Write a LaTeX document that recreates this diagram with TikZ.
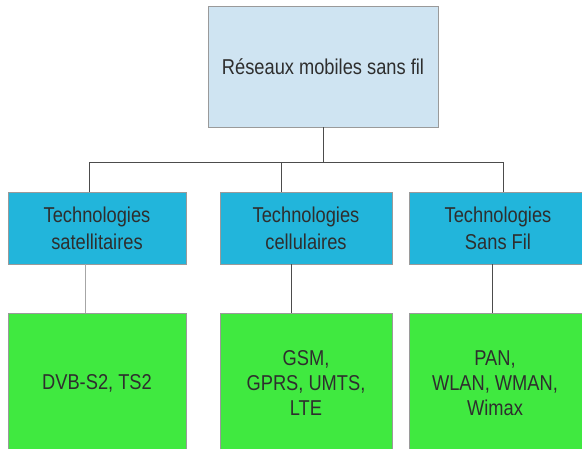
\documentclass[tikz,border=0pt]{standalone}
\usepackage{fontspec}
\setmainfont{Liberation Sans}[FakeStretch=0.85]
\definecolor{rootfill}{HTML}{CFE4F2}
\definecolor{techfill}{HTML}{22B5DB}
\definecolor{listfill}{HTML}{40E940}
\definecolor{boxline}{HTML}{9A9A9A}
\definecolor{inkgray}{HTML}{2E2E2E}
\tikzset{
  box/.style={draw=boxline,line width=0.9pt,align=center,text=inkgray,
    font=\fontsize{21.5}{27}\selectfont,inner sep=0pt},
  rootbox/.style={box,fill=rootfill,minimum width=230,minimum height=121},
  techbox/.style={box,fill=techfill,minimum height=72},
  listbox/.style={box,fill=listfill,minimum height=170},
  listtext/.style={align=center,text=inkgray,inner sep=0pt,
    font=\fontsize{21.5}{25}\selectfont},
  link/.style={draw=black!70,line width=0.9pt},
  paleline/.style={draw=black!35,line width=0.9pt}
}
\begin{document}
\begin{tikzpicture}[x=1pt,y=-1pt]
\useasboundingbox (0,0) rectangle (582,449);
\clip (0,0) rectangle (582,449);
\node[rootbox] (root) at (323,66.5) {R\'eseaux mobiles sans fil};
\node[techbox,minimum width=178] (sat) at (97,228) {Technologies\\satellitaires};
\node[techbox,minimum width=172] (cell) at (306,228) {Technologies\\cellulaires};
\node[techbox,minimum width=178] (wifi) at (498,228) {Technologies\\Sans Fil};
\node[listbox,minimum width=178] (dvb) at (97,398) {};
\node[listbox,minimum width=172] (gsm) at (306,398) {};
\node[listbox,minimum width=178] (pan) at (498,398) {};
\node[listtext] (dvbtext) at (97,383) {DVB-S2, TS2};
\node[listtext] (gsmtext) at (306,383) {GSM,\\GPRS, UMTS,\\LTE};
\node[listtext] (pantext) at (495,383) {PAN,\\WLAN, WMAN,\\Wimax};
% bus between the levels
\coordinate (bus) at (0,162);
\draw[link] (root.south) -- (root.south |- bus);
\draw[link] ([xshift=-8]sat.north) |- ([xshift=5]wifi.north |- bus) -- ([xshift=5]wifi.north);
\draw[link] ([xshift=-25]cell.north) -- ([xshift=-25]cell.north |- bus);
% down to the lists
\draw[paleline] ([xshift=-12]sat.south) -- ([xshift=-12]dvb.north);
\draw[link] ([xshift=-15]cell.south) -- ([xshift=-15]gsm.north);
\draw[link] ([xshift=-6]wifi.south) -- ([xshift=-6]pan.north);
\end{tikzpicture}
\end{document}
